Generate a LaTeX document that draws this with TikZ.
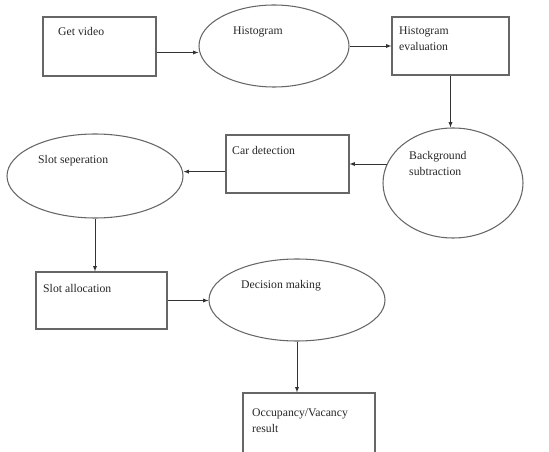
\documentclass[tikz,border=0pt]{standalone}
\usepackage{fontspec}
\setmainfont{Liberation Serif}
\usetikzlibrary{shapes.geometric}

\begin{document}
\begin{tikzpicture}[x=0.03cm, y=-0.03cm,
  box/.style={draw=black!60, line width=0.9pt, rectangle, inner sep=0},
  oval/.style={draw=black!60, line width=0.9pt, ellipse, inner sep=0},
  txt/.style={anchor=north west, inner sep=0, align=left, text=black!85, font=\fontsize{10}{13.6}\selectfont},
  flow/.style={-latex, draw=black!80, line width=0.6pt}]

\path[use as bounding box, clip] (0,0) rectangle (549,452);

\node [box, minimum width=3.39cm, minimum height=1.77cm] (getvideo) at (99.5,46.5) {};
\node [txt] (getvideotxt) at (58,27) {Get video};
\node [oval, minimum width=4.5cm, minimum height=2.46cm] (hist) at (274,46) {};
\node [txt] (histtxt) at (233,27) {Histogram};
\node [box, minimum width=3.51cm, minimum height=1.74cm] (histeval) at (450.5,46) {};
\node [txt] (histevaltxt) at (399,27) {Histogram\\evaluation};

\node [oval, minimum width=4.2cm, minimum height=3.3cm] (bgsub) at (453,183) {};
\node [txt] (bgsubtxt) at (409,151) {Background\\subtraction};
\node [box, minimum width=3.69cm, minimum height=1.74cm] (cardet) at (287.5,164) {};
\node [txt] (cardettxt) at (232,146) {Car detection};
\node [oval, minimum width=5.28cm, minimum height=2.52cm] (slotsep) at (95,176) {};
\node [txt] (slotseptxt) at (38,155) {Slot seperation};

\node [box, minimum width=3.93cm, minimum height=1.71cm] (slotalloc) at (101.5,300.5) {};
\node [txt] (slotalloctxt) at (43,284) {Slot allocation};
\node [oval, minimum width=5.28cm, minimum height=2.46cm] (decision) at (297,300) {};
\node [txt] (decisiontxt) at (241,280) {Decision making};
\node [box, minimum width=3.96cm, minimum height=2.4cm] (occ) at (309,433) {};
\node [txt] (occtxt) at (252,409) {Occupancy/Vacancy\\result};

\draw[flow] (getvideo.-6) -- (getvideo.-6 -| hist.west);
\draw[flow] (hist.east) -- (histeval.west);
\draw[flow] (histeval.south) -- (histeval.south |- bgsub.north);
\draw[flow] (bgsub.164) -- (bgsub.164 -| cardet.east);
\draw[flow] (cardet.187) -- (cardet.187 -| slotsep.east);
\draw[flow] (slotsep.south) -- (slotsep.south |- slotalloc.north);
\draw[flow] (slotalloc.east) -- (slotalloc.east -| decision.west);
\draw[flow] (decision.south) -- (decision.south |- occ.north);

\end{tikzpicture}
\end{document}
